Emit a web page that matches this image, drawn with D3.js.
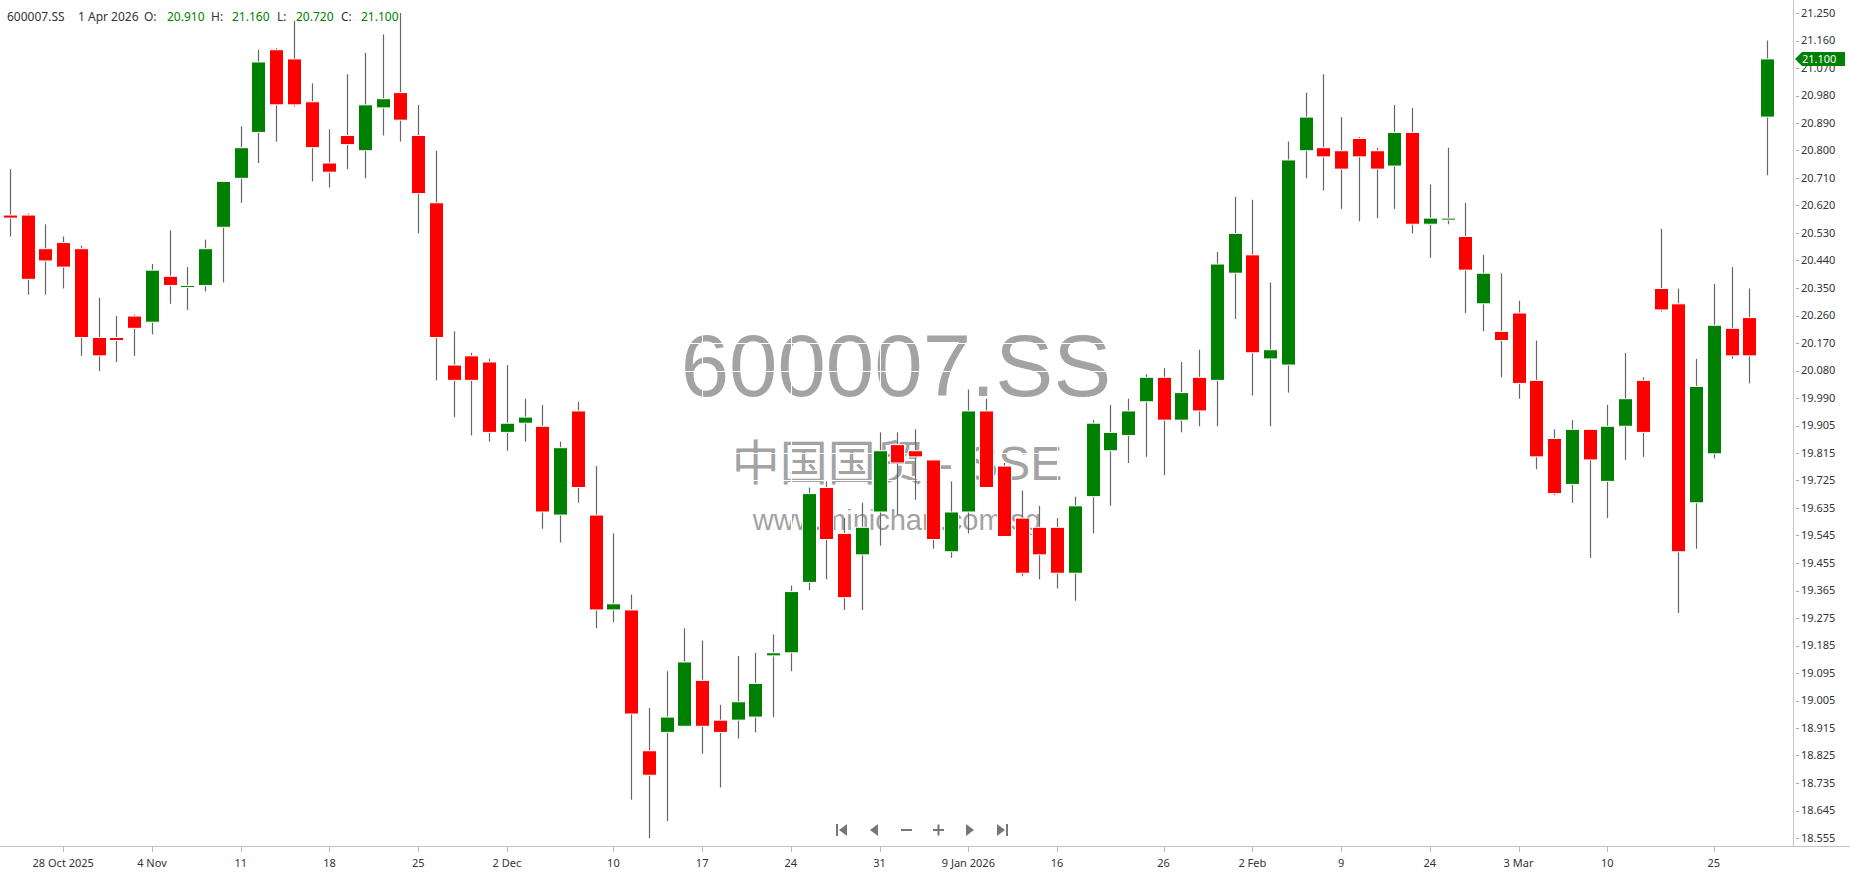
<!DOCTYPE html>
<html>
<head>
<meta charset="utf-8">
<script src="https://cdn.jsdelivr.net/npm/d3@7/dist/d3.min.js"></script>
<style>
  body { margin: 0; background: #fff; }
  svg { display: block; }
  text { font-family: "Noto Sans", "Open Sans", sans-serif; }
</style>
</head>
<body>
<svg id="chart" width="1850" height="874"></svg>
<script>
// trading days shown on the chart (oldest first)
const dates = [
  "2025-10-23","2025-10-24","2025-10-27","2025-10-28","2025-10-29","2025-10-30","2025-10-31",
  "2025-11-03","2025-11-04","2025-11-05","2025-11-06","2025-11-07","2025-11-10","2025-11-11",
  "2025-11-12","2025-11-13","2025-11-14","2025-11-17","2025-11-18","2025-11-19","2025-11-20",
  "2025-11-21","2025-11-24","2025-11-25","2025-11-26","2025-11-27","2025-11-28","2025-12-01",
  "2025-12-02","2025-12-03","2025-12-04","2025-12-05","2025-12-08","2025-12-09","2025-12-10",
  "2025-12-11","2025-12-12","2025-12-15","2025-12-16","2025-12-17","2025-12-18","2025-12-19",
  "2025-12-22","2025-12-23","2025-12-24","2025-12-25","2025-12-26","2025-12-29","2025-12-30",
  "2025-12-31","2026-01-05","2026-01-06","2026-01-07","2026-01-08","2026-01-09","2026-01-12",
  "2026-01-13","2026-01-14","2026-01-15","2026-01-16","2026-01-19","2026-01-20","2026-01-21",
  "2026-01-22","2026-01-23","2026-01-26","2026-01-27","2026-01-28","2026-01-29","2026-01-30",
  "2026-02-02","2026-02-03","2026-02-04","2026-02-05","2026-02-06","2026-02-09","2026-02-10",
  "2026-02-11","2026-02-12","2026-02-13","2026-02-24","2026-02-25","2026-02-26","2026-02-27",
  "2026-03-02","2026-03-03","2026-03-04","2026-03-05","2026-03-06","2026-03-09","2026-03-10",
  "2026-03-11","2026-03-12","2026-03-13","2026-03-23","2026-03-24","2026-03-25","2026-03-26",
  "2026-03-27","2026-04-01"
];

const open = [
  20.59,20.59,20.48,20.50,20.48,20.19,20.19,20.26,20.24,20.39,
  20.355,20.36,20.55,20.71,20.86,21.13,21.10,20.96,20.76,20.85,
  20.80,20.94,20.99,20.85,20.63,20.10,20.13,20.11,19.88,19.91,
  19.90,19.61,19.95,19.61,19.30,19.30,18.84,18.90,18.92,19.07,
  18.94,18.94,18.95,19.15,19.16,19.39,19.70,19.55,19.48,19.62,
  19.84,19.82,19.79,19.49,19.62,19.95,19.77,19.60,19.57,19.57,
  19.42,19.67,19.82,19.87,19.98,20.06,19.92,20.06,20.05,20.40,
  20.46,20.12,20.10,20.80,20.81,20.80,20.84,20.80,20.75,20.86,
  20.56,20.575,20.52,20.30,20.21,20.27,20.05,19.86,19.71,19.89,
  19.72,19.90,20.05,20.35,20.30,19.65,19.81,20.22,20.255,20.91
];
const high = [
  20.74,20.595,20.56,20.52,20.49,20.32,20.26,20.265,20.43,20.54,
  20.42,20.51,20.70,20.88,21.13,21.135,21.225,21.02,20.87,21.05,
  21.12,21.18,21.25,20.95,20.80,20.21,20.14,20.12,20.10,19.99,
  19.97,19.85,19.98,19.77,19.55,19.35,18.98,19.10,19.24,19.20,
  18.99,19.15,19.16,19.22,19.38,19.70,19.72,19.60,19.65,19.88,
  19.88,19.89,19.79,19.72,20.02,19.99,19.78,19.69,19.64,19.60,
  19.67,19.92,19.97,19.99,20.07,20.09,20.11,20.15,20.47,20.65,
  20.64,20.37,20.83,20.99,21.05,20.91,20.845,20.81,20.95,20.94,
  20.69,20.81,20.63,20.46,20.40,20.31,20.18,19.89,19.92,19.89,
  19.97,20.14,20.06,20.545,20.35,20.12,20.365,20.42,20.35,21.16
];
const low = [
  20.52,20.33,20.33,20.35,20.13,20.08,20.11,20.13,20.20,20.30,
  20.28,20.34,20.37,20.63,20.76,20.83,20.945,20.70,20.68,20.74,
  20.71,20.85,20.83,20.53,20.05,19.93,19.87,19.85,19.82,19.85,
  19.565,19.52,19.65,19.24,19.26,18.68,18.555,18.61,18.92,18.83,
  18.72,18.88,18.90,18.95,19.10,19.365,19.40,19.30,19.30,19.51,
  19.61,19.66,19.50,19.47,19.55,19.70,19.54,19.41,19.40,19.37,
  19.33,19.55,19.64,19.78,19.80,19.74,19.88,19.90,19.90,20.25,
  20.00,19.90,20.01,20.71,20.67,20.61,20.57,20.58,20.61,20.53,
  20.45,20.56,20.27,20.21,20.06,19.99,19.76,19.675,19.65,19.47,
  19.60,19.79,19.80,20.275,19.29,19.50,19.795,20.12,20.04,20.72
];
const close = [
  20.58,20.38,20.44,20.42,20.19,20.13,20.18,20.22,20.41,20.36,
  20.36,20.48,20.70,20.81,21.09,20.95,20.95,20.81,20.73,20.82,
  20.95,20.97,20.90,20.66,20.19,20.05,20.05,19.88,19.91,19.93,
  19.62,19.83,19.70,19.30,19.32,18.96,18.76,18.95,19.13,18.92,
  18.90,19.00,19.06,19.16,19.36,19.68,19.53,19.34,19.57,19.82,
  19.78,19.80,19.53,19.62,19.95,19.70,19.54,19.42,19.48,19.42,
  19.64,19.91,19.88,19.95,20.06,19.92,20.01,19.95,20.43,20.53,
  20.14,20.15,20.77,20.91,20.78,20.74,20.78,20.74,20.86,20.56,
  20.58,20.58,20.41,20.40,20.18,20.04,19.80,19.68,19.89,19.79,
  19.90,19.99,19.88,20.28,19.49,20.03,20.23,20.13,20.13,21.10
];

// x axis labels (index into dates) and price labels on the right
const xTickIndex = [3, 8, 13, 18, 23, 28, 34, 39, 44, 49, 54, 59, 65, 70, 75, 80, 85, 90, 96];
const xTickLabels = ["28 Oct 2025","4 Nov","11","18","25","2 Dec","10","17","24","31",
                     "9 Jan 2026","16","26","2 Feb","9","24","3 Mar","10","25"];
const yTickLabels = ["21.250","21.160","21.070","20.980","20.890","20.800","20.710","20.620",
  "20.530","20.440","20.350","20.260","20.170","20.080","19.990","19.905","19.815","19.725",
  "19.635","19.545","19.455","19.365","19.275","19.185","19.095","19.005","18.915","18.825",
  "18.735","18.645","18.555"];
const priceMin = 18.555, priceMax = 21.25;

const symbol = "600007.SS";
const company = "中国国贸 - SSE";
const site = "www.minichart.com.sg";
const lastDateLabel = "1 Apr 2026";

const W = 1850, H = 874;
const plotRight = 1793, plotBottom = 846;
const UP = "#008000", DOWN = "#ff0000";

const svg = d3.select("#chart");

const x = d3.scalePoint().domain(d3.range(dates.length)).range([10, 1767]);
const y = d3.scaleLinear().domain([priceMin, priceMax]).range([838, 13]);

const candles = dates.map(function(d, i) {
  return { i: i, date: d, o: open[i], h: high[i], l: low[i], c: close[i] };
});
console.log("candles: " + candles.length);

// watermark
const wm = svg.append("g").attr("fill", "#a3a3a3").attr("text-anchor", "middle");
wm.append("text").attr("x", 896).attr("y", 396)
  .style("font-family", "'Liberation Sans', Arial, sans-serif").style("font-size", "87px")
  .text(symbol);
wm.append("text").attr("x", 897).attr("y", 480)
  .style("font-family", "'Liberation Sans', 'Noto Sans CJK SC', sans-serif").style("font-size", "48px")
  .text(company);
wm.append("text").attr("x", 897).attr("y", 530)
  .style("font-family", "'Liberation Sans', Arial, sans-serif").style("font-size", "29px")
  .text(site);

// white grid (only shows where it cuts the watermark)
const yStep = (priceMax - priceMin) / (yTickLabels.length - 1);
const yTickVals = yTickLabels.map(function(t, k) { return priceMax - k * yStep; });
const grid = svg.append("g").attr("stroke", "#fff").attr("stroke-width", 1);
grid.selectAll(".gy").data(yTickVals).enter().append("line")
  .attr("x1", 0).attr("x2", plotRight)
  .attr("y1", function(v) { return Math.round(y(v)) + 0.5; })
  .attr("y2", function(v) { return Math.round(y(v)) + 0.5; });
grid.selectAll(".gx").data(xTickIndex).enter().append("line")
  .attr("y1", 0).attr("y2", plotBottom)
  .attr("x1", function(i) { return Math.round(x(i)) + 0.5; })
  .attr("x2", function(i) { return Math.round(x(i)) + 0.5; });

// candles
const bodyW = 14;
const cg = svg.append("g");
cg.selectAll(".wick").data(candles).enter().append("line")
  .attr("class", "wick")
  .attr("x1", function(d) { return Math.round(x(d.i)) + 0.5; })
  .attr("x2", function(d) { return Math.round(x(d.i)) + 0.5; })
  .attr("y1", function(d) { return y(d.h); })
  .attr("y2", function(d) { return y(d.l); })
  .attr("stroke", "#666").attr("stroke-width", 1.2);

cg.selectAll(".body").data(candles).enter().append("rect")
  .attr("class", "body")
  .attr("x", function(d) { return Math.round(x(d.i)) - bodyW / 2 + 0.5; })
  .attr("y", function(d) { return y(Math.max(d.o, d.c)); })
  .attr("width", bodyW)
  .attr("height", function(d) { return Math.max(2, Math.abs(y(d.o) - y(d.c))); })
  .attr("fill", function(d) { return d.c >= d.o ? UP : DOWN; })
  .attr("stroke", "#fff").attr("stroke-width", 1);

// right price axis
const ax = svg.append("g");
ax.append("line").attr("x1", plotRight + 0.5).attr("x2", plotRight + 0.5)
  .attr("y1", 0).attr("y2", plotBottom).attr("stroke", "#c4c4c4");
ax.selectAll(".yt").data(yTickVals).enter().append("line")
  .attr("x1", plotRight + 3).attr("x2", plotRight + 6)
  .attr("y1", function(v) { return Math.round(y(v)) + 0.5; })
  .attr("y2", function(v) { return Math.round(y(v)) + 0.5; })
  .attr("stroke", "#aaa");
ax.selectAll(".yl").data(yTickLabels).enter().append("text")
  .attr("x", plotRight + 8)
  .attr("y", function(t, k) { return y(yTickVals[k]); })
  .attr("dy", "0.35em")
  .attr("fill", "#333").style("font-size", "11px")
  .text(function(t) { return t; });

// last price tag
const last = candles[candles.length - 1];
const ly = y(last.c);
ax.append("path")
  .attr("d", "M" + (plotRight + 2) + "," + ly + " L" + (plotRight + 9) + "," + (ly - 7) +
             " L1845," + (ly - 7) + " L1845," + (ly + 7) + " L" + (plotRight + 9) + "," + (ly + 7) + " Z")
  .attr("fill", UP);
ax.append("text").attr("x", plotRight + 9).attr("y", ly).attr("dy", "0.35em")
  .attr("fill", "#fff").style("font-size", "11px")
  .text(last.c.toFixed(3));

// bottom date axis
ax.append("line").attr("x1", 0).attr("x2", W)
  .attr("y1", plotBottom + 0.5).attr("y2", plotBottom + 0.5).attr("stroke", "#c4c4c4");
ax.selectAll(".xt").data(xTickIndex).enter().append("line")
  .attr("x1", function(i) { return Math.round(x(i)) + 0.5; })
  .attr("x2", function(i) { return Math.round(x(i)) + 0.5; })
  .attr("y1", plotBottom + 1).attr("y2", plotBottom + 6)
  .attr("stroke", "#bbb");
ax.selectAll(".xl").data(xTickIndex).enter().append("text")
  .attr("x", function(i) { return x(i); })
  .attr("y", 867)
  .attr("text-anchor", "middle")
  .attr("fill", "#333").style("font-size", "11px")
  .text(function(i, k) { return xTickLabels[k]; });

// header with the last bar
const hdr = svg.append("g").style("font-size", "12px");
const hdrParts = [
  [7, symbol, "#333"], [78, lastDateLabel, "#333"],
  [144, "O:", "#333"], [167, last.o.toFixed(3), UP],
  [211, "H:", "#333"], [232, last.h.toFixed(3), UP],
  [277, "L:", "#333"], [296, last.l.toFixed(3), UP],
  [341, "C:", "#333"], [361, last.c.toFixed(3), UP]
];
hdr.selectAll("text").data(hdrParts).enter().append("text")
  .attr("x", function(p) { return p[0]; }).attr("y", 21)
  .attr("fill", function(p) { return p[2]; })
  .text(function(p) { return p[1]; });

// navigation buttons
const nav = svg.append("g").attr("fill", "#777").attr("stroke", "none");
const ny = 830;
nav.append("rect").attr("x", 836).attr("y", ny - 6).attr("width", 2).attr("height", 12);
nav.append("path").attr("d", "M839," + ny + " L847," + (ny - 6) + " L847," + (ny + 6) + " Z");
nav.append("path").attr("d", "M870," + ny + " L878," + (ny - 6) + " L878," + (ny + 6) + " Z");
nav.append("rect").attr("x", 901).attr("y", ny - 1).attr("width", 11).attr("height", 2);
nav.append("rect").attr("x", 933).attr("y", ny - 1).attr("width", 11).attr("height", 2);
nav.append("rect").attr("x", 937.5).attr("y", ny - 5.5).attr("width", 2).attr("height", 11);
nav.append("path").attr("d", "M974," + ny + " L966," + (ny - 6) + " L966," + (ny + 6) + " Z");
nav.append("path").attr("d", "M1005," + ny + " L997," + (ny - 6) + " L997," + (ny + 6) + " Z");
nav.append("rect").attr("x", 1006).attr("y", ny - 6).attr("width", 2).attr("height", 12);
</script>
</body>
</html>
